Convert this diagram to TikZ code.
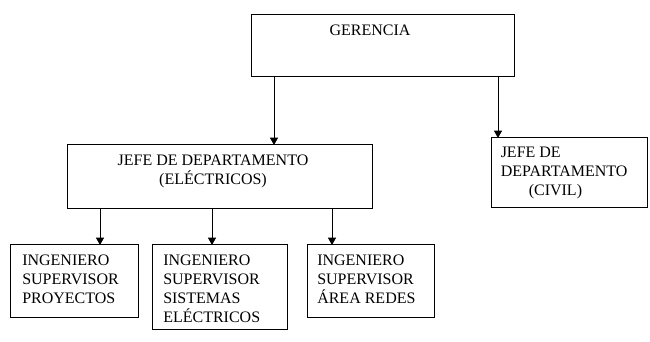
\documentclass[tikz,border=0pt]{standalone}
\usepackage{fontspec}
\setmainfont{Liberation Serif}
\usepackage{tikz}
\usetikzlibrary{positioning, arrows.meta}

\begin{document}
\begin{tikzpicture}[
    x=0.75pt, y=-0.75pt,
    every node/.style={font=\fontsize{12}{14.25}\selectfont},
    box/.style={rectangle, draw=black, line width=0.75pt, fill=white,
                inner sep=0pt, outer sep=0pt},
    txt/.style={inner sep=0pt, align=left},
    arr/.style={-{Triangle[width=6pt, length=5.5pt]}, line width=0.75pt, draw=black}
]
\useasboundingbox (0,0) rectangle (650,342);

% Gerencia
\node[box, minimum width=197.25pt, minimum height=46.5pt] (ger) at (382.5,46) {};
\node[txt, anchor=north] (gertxt) at (370,24.7) {GERENCIA};

% Jefes de departamento
\node[box, minimum width=228.75pt, minimum height=48pt] (jefe) at (219.5,177) {};
\node[txt, align=center, anchor=north] (jefetxt) at (213,154.7) {JEFE DE DEPARTAMENTO\\(ELÉCTRICOS)};

\node[box, minimum width=117pt, minimum height=52.5pt] (civil) at (569,173) {};
\node[txt, anchor=north west] (civiltxt) at (500.5,146.7) {JEFE DE\\DEPARTAMENTO\\\hspace*{21pt}(CIVIL)};

% Ingenieros supervisores
\node[box, minimum width=96pt, minimum height=54pt] (proy) at (74,281) {};
\node[txt, anchor=north west] (proytxt) at (22,254.7) {INGENIERO\\SUPERVISOR\\PROYECTOS};

\node[box, minimum width=101.25pt, minimum height=63pt] (sist) at (219.5,287) {};
\node[txt, anchor=north west] (sisttxt) at (163,254.7) {INGENIERO\\SUPERVISOR\\SISTEMAS\\ELÉCTRICOS};

\node[box, minimum width=95.25pt, minimum height=54pt] (redes) at (370.5,281) {};
\node[txt, anchor=north west] (redestxt) at (317,254.7) {INGENIERO\\SUPERVISOR\\ÁREA REDES};

% Arrows
\draw[arr] (274,0 |- ger.south) -- (274,0 |- jefe.north);
\draw[arr] (498,0 |- ger.south) -- (498,0 |- civil.north);
\draw[arr] (100,0 |- jefe.south) -- (100,0 |- proy.north);
\draw[arr] (212,0 |- jefe.south) -- (212,0 |- sist.north);
\draw[arr] (332,0 |- jefe.south) -- (332,0 |- redes.north);

\end{tikzpicture}
\end{document}
